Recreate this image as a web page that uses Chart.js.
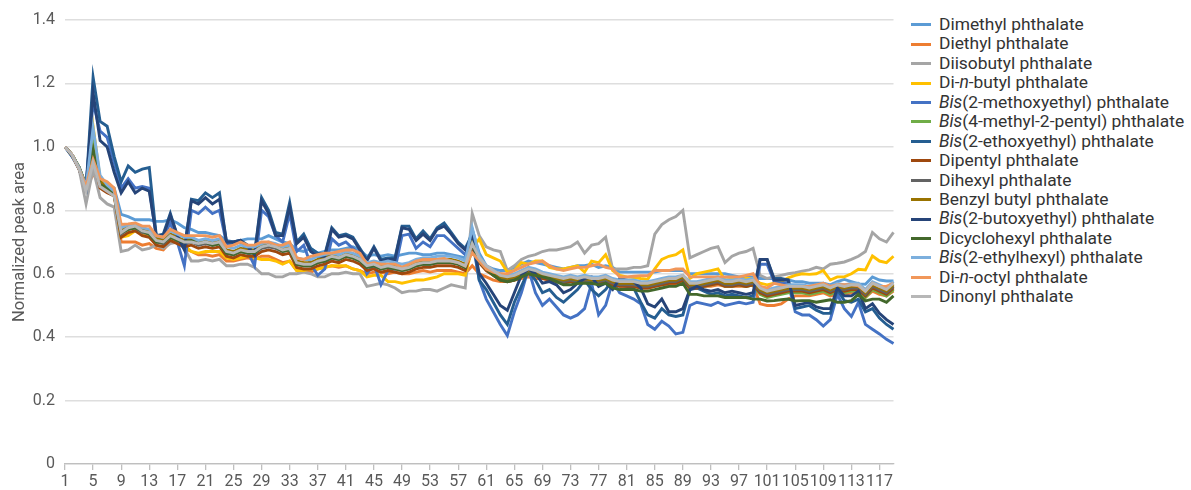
<!DOCTYPE html>
<html>
<head>
<meta charset="utf-8">
<script src="https://cdn.jsdelivr.net/npm/chart.js@4.4.1/dist/chart.umd.min.js"></script>
<style>
  body { margin:0; background:#fff; }
  #wrap { position:relative; width:1191px; height:490px; }
  #chartBox { position:absolute; left:0; top:0; width:900px; height:490px; }
  #legend { position:absolute; left:911px; top:15px; font-family:Roboto, "Liberation Sans", sans-serif; font-size:17.4px; color:#333; }
  #legend .item { height:19.45px; line-height:19.45px; white-space:nowrap; display:flex; align-items:center; }
  #legend .swatch { width:20px; height:3px; margin-right:8px; flex:none; }
</style>
</head>
<body>
<div id="wrap">
  <div id="chartBox"><canvas id="chart" width="900" height="490"></canvas></div>
  <div id="legend"></div>
</div>
<script>
// ---------- DATA ----------
const N_POINTS = 119;
const LABELS = Array.from({length:N_POINTS}, (_, i) => String(i + 1));
const Y_TICKS = [0, 0.2, 0.4, 0.6, 0.8, 1.0, 1.2, 1.4];

const SERIES_NAMES = [
  "Dimethyl phthalate", "Diethyl phthalate", "Diisobutyl phthalate", "Di-n-butyl phthalate",
  "Bis(2-methoxyethyl) phthalate", "Bis(4-methyl-2-pentyl) phthalate", "Bis(2-ethoxyethyl) phthalate",
  "Dipentyl phthalate", "Dihexyl phthalate", "Benzyl butyl phthalate", "Bis(2-butoxyethyl) phthalate",
  "Dicyclohexyl phthalate", "Bis(2-ethylhexyl) phthalate", "Di-n-octyl phthalate", "Dinonyl phthalate"
];
const SERIES_COLORS = [
  "#5B9BD5", "#ED7D31", "#A5A5A5", "#FFC000", "#4472C4", "#70AD47", "#255E91",
  "#9E480E", "#636363", "#997300", "#264478", "#43682B", "#7CAFDD", "#F1975A", "#B7B7B7"
];

const dimethyl = [
  1.00,0.975,0.935,0.88,0.99,0.90,0.88,0.87,0.787,0.78,
  0.77,0.77,0.77,0.765,0.765,0.77,0.76,0.745,0.74,0.73,
  0.73,0.725,0.72,0.705,0.70,0.705,0.71,0.71,0.71,0.72,
  0.71,0.70,0.695,0.675,0.67,0.68,0.665,0.67,0.675,0.675,
  0.68,0.685,0.675,0.655,0.66,0.655,0.66,0.655,0.66,0.665,
  0.665,0.66,0.66,0.665,0.665,0.66,0.655,0.65,0.74,0.665,
  0.625,0.615,0.61,0.61,0.62,0.63,0.64,0.635,0.63,0.625,
  0.62,0.615,0.62,0.625,0.625,0.63,0.62,0.625,0.62,0.605,
  0.605,0.605,0.605,0.605,0.605,0.61,0.61,0.61,0.61,0.60,
  0.60,0.60,0.60,0.60,0.60,0.595,0.59,0.59,0.59,0.585,
  0.585,0.585,0.58,0.58,0.575,0.575,0.57,0.57,0.57,0.565,
  0.575,0.582,0.575,0.568,0.567,0.59,0.58,0.577,0.577
];
const diethyl = [
  1.00,0.975,0.93,0.865,0.915,0.88,0.87,0.855,0.70,0.70,
  0.70,0.69,0.695,0.68,0.675,0.70,0.70,0.68,0.67,0.66,
  0.66,0.655,0.66,0.64,0.64,0.645,0.65,0.645,0.655,0.655,
  0.645,0.635,0.64,0.61,0.61,0.605,0.615,0.62,0.625,0.62,
  0.625,0.615,0.61,0.60,0.605,0.605,0.60,0.605,0.60,0.60,
  0.605,0.61,0.605,0.61,0.61,0.61,0.605,0.60,0.625,0.60,
  0.59,0.58,0.575,0.575,0.58,0.585,0.59,0.585,0.585,0.58,
  0.58,0.575,0.575,0.575,0.575,0.575,0.575,0.575,0.565,0.56,
  0.56,0.56,0.555,0.555,0.56,0.565,0.565,0.57,0.575,0.555,
  0.555,0.56,0.56,0.565,0.56,0.56,0.56,0.56,0.565,0.505,
  0.50,0.50,0.505,0.52,0.53,0.53,0.53,0.535,0.54,0.53,
  0.535,0.535,0.54,0.54,0.525,0.545,0.535,0.53,0.545
];
const diisobutyl = [
  1.00,0.975,0.93,0.82,0.93,0.84,0.82,0.81,0.67,0.675,
  0.69,0.675,0.68,0.69,0.68,0.695,0.70,0.68,0.64,0.64,
  0.645,0.64,0.645,0.625,0.625,0.63,0.63,0.62,0.60,0.60,
  0.59,0.59,0.60,0.60,0.605,0.60,0.59,0.59,0.60,0.60,
  0.605,0.60,0.60,0.56,0.565,0.57,0.565,0.555,0.54,0.545,
  0.545,0.55,0.55,0.545,0.555,0.565,0.56,0.555,0.79,0.72,
  0.685,0.675,0.67,0.61,0.625,0.645,0.655,0.66,0.67,0.675,
  0.675,0.68,0.685,0.70,0.665,0.69,0.695,0.715,0.615,0.615,
  0.615,0.62,0.62,0.625,0.725,0.755,0.77,0.78,0.80,0.65,
  0.66,0.67,0.68,0.685,0.635,0.655,0.665,0.67,0.68,0.595,
  0.585,0.59,0.595,0.60,0.603,0.608,0.612,0.62,0.615,0.63,
  0.633,0.637,0.645,0.655,0.67,0.73,0.71,0.70,0.73
];
const diNButyl = [
  1.00,0.975,0.935,0.875,1.065,0.90,0.87,0.85,0.715,0.72,
  0.735,0.725,0.72,0.70,0.695,0.705,0.70,0.69,0.67,0.665,
  0.67,0.67,0.67,0.65,0.645,0.65,0.655,0.65,0.645,0.645,
  0.64,0.63,0.64,0.61,0.61,0.615,0.615,0.62,0.625,0.625,
  0.625,0.615,0.61,0.59,0.595,0.595,0.575,0.575,0.57,0.575,
  0.58,0.58,0.585,0.59,0.60,0.60,0.60,0.595,0.68,0.71,
  0.66,0.65,0.64,0.605,0.61,0.635,0.63,0.64,0.64,0.62,
  0.615,0.615,0.62,0.625,0.605,0.64,0.635,0.66,0.61,0.595,
  0.59,0.588,0.585,0.583,0.615,0.645,0.655,0.66,0.675,0.585,
  0.60,0.605,0.61,0.615,0.58,0.583,0.58,0.585,0.585,0.57,
  0.565,0.57,0.575,0.587,0.595,0.60,0.598,0.60,0.61,0.58,
  0.59,0.59,0.60,0.614,0.612,0.656,0.64,0.635,0.655
];
const bisMethoxyethyl = [
  1.00,0.97,0.935,0.875,1.14,1.05,1.03,0.95,0.87,0.90,
  0.87,0.875,0.87,0.715,0.715,0.76,0.70,0.625,0.80,0.79,
  0.81,0.79,0.80,0.695,0.695,0.70,0.67,0.625,0.80,0.78,
  0.72,0.70,0.79,0.67,0.69,0.63,0.595,0.615,0.71,0.69,
  0.70,0.68,0.66,0.60,0.63,0.565,0.61,0.615,0.72,0.725,
  0.68,0.70,0.685,0.72,0.72,0.70,0.68,0.66,0.705,0.58,
  0.52,0.48,0.44,0.405,0.48,0.54,0.615,0.54,0.50,0.52,
  0.495,0.47,0.46,0.47,0.49,0.57,0.47,0.50,0.575,0.54,
  0.53,0.52,0.505,0.44,0.425,0.45,0.435,0.41,0.415,0.50,
  0.51,0.505,0.50,0.51,0.50,0.505,0.51,0.505,0.51,0.63,
  0.63,0.575,0.57,0.57,0.48,0.47,0.47,0.455,0.435,0.455,
  0.535,0.49,0.465,0.51,0.44,0.425,0.41,0.393,0.38
];
const bisMethylPentyl = [
  1.00,0.975,0.935,0.88,1.01,0.885,0.865,0.85,0.735,0.745,
  0.745,0.735,0.725,0.705,0.70,0.715,0.71,0.70,0.70,0.695,
  0.70,0.69,0.695,0.67,0.665,0.67,0.67,0.665,0.685,0.69,
  0.685,0.675,0.68,0.635,0.63,0.63,0.64,0.64,0.655,0.65,
  0.66,0.655,0.645,0.625,0.63,0.62,0.625,0.62,0.615,0.62,
  0.63,0.635,0.635,0.64,0.64,0.64,0.635,0.625,0.70,0.645,
  0.615,0.60,0.59,0.585,0.59,0.60,0.61,0.605,0.595,0.585,
  0.58,0.575,0.58,0.575,0.58,0.575,0.575,0.58,0.57,0.565,
  0.565,0.565,0.56,0.56,0.565,0.57,0.575,0.575,0.585,0.555,
  0.555,0.56,0.565,0.57,0.56,0.56,0.565,0.56,0.565,0.535,
  0.525,0.53,0.535,0.54,0.54,0.54,0.535,0.54,0.545,0.535,
  0.545,0.54,0.545,0.545,0.525,0.55,0.54,0.53,0.55
];
const bisEthoxyethyl = [
  1.00,0.97,0.93,0.87,1.22,1.08,1.065,0.97,0.89,0.94,
  0.92,0.93,0.935,0.72,0.725,0.79,0.72,0.68,0.835,0.83,
  0.855,0.84,0.855,0.70,0.70,0.705,0.69,0.665,0.84,0.80,
  0.73,0.725,0.825,0.70,0.725,0.68,0.665,0.66,0.745,0.72,
  0.725,0.715,0.68,0.645,0.685,0.645,0.65,0.65,0.75,0.75,
  0.71,0.735,0.71,0.745,0.76,0.73,0.70,0.68,0.725,0.58,
  0.55,0.51,0.47,0.44,0.51,0.56,0.61,0.58,0.54,0.55,
  0.525,0.51,0.53,0.55,0.58,0.55,0.53,0.55,0.58,0.565,
  0.56,0.555,0.51,0.47,0.46,0.49,0.47,0.465,0.47,0.55,
  0.555,0.545,0.535,0.54,0.53,0.535,0.53,0.525,0.53,0.645,
  0.645,0.585,0.585,0.58,0.49,0.495,0.50,0.485,0.475,0.475,
  0.55,0.515,0.51,0.52,0.48,0.49,0.46,0.44,0.425
];
const dipentyl = [
  1.00,0.975,0.93,0.87,0.97,0.87,0.855,0.845,0.715,0.73,
  0.735,0.72,0.715,0.69,0.685,0.705,0.695,0.685,0.69,0.68,
  0.685,0.68,0.685,0.655,0.65,0.66,0.655,0.655,0.67,0.675,
  0.67,0.66,0.665,0.62,0.615,0.615,0.625,0.63,0.64,0.635,
  0.645,0.64,0.63,0.61,0.615,0.605,0.61,0.605,0.60,0.605,
  0.615,0.62,0.62,0.625,0.625,0.625,0.62,0.61,0.68,0.635,
  0.61,0.595,0.58,0.575,0.58,0.59,0.60,0.595,0.585,0.58,
  0.575,0.57,0.575,0.57,0.575,0.57,0.57,0.575,0.565,0.56,
  0.56,0.56,0.555,0.555,0.56,0.565,0.57,0.57,0.58,0.555,
  0.555,0.56,0.565,0.57,0.56,0.56,0.565,0.56,0.565,0.54,
  0.53,0.535,0.54,0.545,0.545,0.545,0.54,0.545,0.55,0.54,
  0.55,0.545,0.55,0.55,0.53,0.555,0.545,0.535,0.555
];
const dihexyl = [
  1.00,0.975,0.935,0.875,0.98,0.88,0.865,0.85,0.725,0.74,
  0.745,0.73,0.725,0.70,0.695,0.715,0.705,0.695,0.70,0.69,
  0.695,0.69,0.695,0.665,0.66,0.67,0.665,0.665,0.68,0.685,
  0.68,0.67,0.675,0.63,0.625,0.625,0.635,0.64,0.65,0.645,
  0.655,0.65,0.64,0.62,0.625,0.615,0.62,0.615,0.61,0.615,
  0.625,0.63,0.63,0.635,0.635,0.635,0.63,0.62,0.69,0.64,
  0.615,0.60,0.585,0.58,0.585,0.595,0.605,0.60,0.59,0.585,
  0.58,0.575,0.58,0.575,0.58,0.575,0.575,0.58,0.57,0.565,
  0.565,0.565,0.56,0.56,0.565,0.57,0.575,0.575,0.585,0.56,
  0.56,0.565,0.57,0.575,0.565,0.565,0.57,0.565,0.57,0.545,
  0.535,0.54,0.545,0.55,0.55,0.55,0.545,0.55,0.555,0.545,
  0.555,0.55,0.555,0.555,0.535,0.56,0.55,0.54,0.56
];
const benzylButyl = [
  1.00,0.975,0.935,0.875,0.99,0.89,0.875,0.855,0.735,0.75,
  0.755,0.74,0.735,0.71,0.705,0.725,0.715,0.705,0.71,0.70,
  0.705,0.70,0.705,0.675,0.67,0.68,0.675,0.675,0.69,0.695,
  0.69,0.68,0.685,0.64,0.635,0.635,0.645,0.65,0.66,0.655,
  0.665,0.66,0.65,0.63,0.635,0.625,0.63,0.625,0.62,0.625,
  0.635,0.64,0.64,0.645,0.645,0.645,0.64,0.63,0.70,0.645,
  0.62,0.605,0.59,0.585,0.59,0.60,0.61,0.605,0.595,0.59,
  0.585,0.58,0.585,0.58,0.585,0.58,0.58,0.585,0.575,0.57,
  0.57,0.57,0.565,0.565,0.57,0.575,0.58,0.58,0.59,0.565,
  0.565,0.57,0.575,0.58,0.57,0.57,0.575,0.57,0.575,0.55,
  0.54,0.545,0.55,0.555,0.555,0.555,0.55,0.555,0.56,0.55,
  0.56,0.555,0.56,0.56,0.54,0.565,0.555,0.545,0.565
];
const bisButoxyethyl = [
  1.00,0.975,0.93,0.87,1.17,1.02,1.00,0.92,0.855,0.89,
  0.855,0.87,0.86,0.72,0.72,0.785,0.72,0.675,0.83,0.82,
  0.84,0.82,0.835,0.70,0.70,0.705,0.685,0.66,0.83,0.79,
  0.72,0.72,0.81,0.695,0.715,0.67,0.655,0.655,0.74,0.715,
  0.72,0.71,0.675,0.64,0.68,0.64,0.645,0.645,0.745,0.74,
  0.705,0.725,0.705,0.74,0.75,0.725,0.695,0.675,0.715,0.60,
  0.57,0.535,0.50,0.485,0.54,0.595,0.615,0.60,0.57,0.575,
  0.565,0.54,0.55,0.57,0.585,0.59,0.56,0.57,0.55,0.585,
  0.58,0.575,0.555,0.505,0.495,0.52,0.48,0.48,0.49,0.55,
  0.56,0.55,0.545,0.55,0.54,0.545,0.54,0.535,0.54,0.645,
  0.645,0.58,0.58,0.58,0.50,0.505,0.51,0.495,0.49,0.49,
  0.555,0.53,0.53,0.545,0.49,0.505,0.475,0.455,0.44
];
const dicyclohexyl = [
  1.00,0.975,0.935,0.875,0.99,0.88,0.87,0.85,0.73,0.74,
  0.745,0.735,0.725,0.70,0.70,0.715,0.705,0.70,0.705,0.695,
  0.70,0.69,0.695,0.665,0.66,0.67,0.665,0.665,0.685,0.69,
  0.685,0.67,0.675,0.63,0.625,0.625,0.635,0.64,0.65,0.645,
  0.655,0.65,0.64,0.62,0.625,0.615,0.62,0.615,0.61,0.615,
  0.625,0.63,0.63,0.635,0.635,0.635,0.63,0.62,0.695,0.64,
  0.615,0.595,0.58,0.575,0.58,0.59,0.60,0.595,0.59,0.585,
  0.575,0.565,0.565,0.57,0.57,0.57,0.565,0.57,0.555,0.55,
  0.55,0.55,0.545,0.545,0.55,0.555,0.56,0.56,0.57,0.535,
  0.535,0.53,0.53,0.53,0.525,0.525,0.525,0.525,0.52,0.52,
  0.514,0.515,0.518,0.52,0.514,0.515,0.515,0.51,0.514,0.518,
  0.51,0.51,0.515,0.535,0.514,0.52,0.52,0.51,0.53
];
const bisEthylhexyl = [
  1.00,0.975,0.935,0.875,1.06,0.91,0.88,0.86,0.745,0.755,
  0.755,0.745,0.74,0.72,0.715,0.735,0.725,0.715,0.715,0.705,
  0.71,0.705,0.71,0.685,0.68,0.69,0.685,0.685,0.695,0.70,
  0.695,0.685,0.69,0.65,0.645,0.645,0.655,0.66,0.665,0.66,
  0.67,0.665,0.655,0.635,0.64,0.635,0.64,0.635,0.63,0.635,
  0.645,0.65,0.65,0.655,0.655,0.655,0.65,0.64,0.745,0.655,
  0.625,0.61,0.60,0.595,0.60,0.61,0.62,0.615,0.605,0.60,
  0.595,0.59,0.595,0.59,0.595,0.59,0.59,0.595,0.585,0.58,
  0.58,0.58,0.575,0.575,0.58,0.585,0.59,0.59,0.595,0.575,
  0.575,0.58,0.585,0.59,0.58,0.58,0.585,0.58,0.585,0.56,
  0.55,0.555,0.56,0.565,0.565,0.565,0.56,0.565,0.57,0.56,
  0.57,0.565,0.57,0.57,0.55,0.575,0.565,0.555,0.575
];
const diNOctyl = [
  1.00,0.975,0.93,0.875,0.96,0.90,0.89,0.87,0.755,0.757,
  0.76,0.75,0.75,0.72,0.715,0.74,0.73,0.72,0.72,0.72,
  0.72,0.715,0.72,0.685,0.69,0.70,0.69,0.69,0.70,0.70,
  0.69,0.69,0.70,0.65,0.645,0.655,0.66,0.665,0.665,0.67,
  0.675,0.675,0.665,0.63,0.635,0.63,0.63,0.63,0.62,0.63,
  0.64,0.645,0.645,0.645,0.648,0.64,0.635,0.624,0.666,0.64,
  0.615,0.605,0.60,0.60,0.61,0.62,0.63,0.635,0.64,0.625,
  0.615,0.61,0.615,0.62,0.62,0.625,0.63,0.62,0.615,0.59,
  0.59,0.592,0.594,0.594,0.61,0.61,0.61,0.615,0.615,0.59,
  0.59,0.59,0.59,0.59,0.59,0.59,0.59,0.595,0.60,0.56,
  0.555,0.57,0.565,0.56,0.56,0.56,0.56,0.565,0.57,0.56,
  0.565,0.565,0.565,0.562,0.545,0.57,0.56,0.56,0.57
];
const dinonyl = [
  1.00,0.975,0.93,0.86,0.95,0.875,0.86,0.845,0.73,0.745,
  0.75,0.735,0.73,0.705,0.70,0.72,0.71,0.70,0.70,0.695,
  0.70,0.695,0.70,0.67,0.665,0.675,0.67,0.67,0.685,0.69,
  0.685,0.675,0.68,0.635,0.63,0.63,0.64,0.645,0.655,0.65,
  0.66,0.655,0.645,0.625,0.63,0.62,0.625,0.62,0.615,0.62,
  0.63,0.635,0.635,0.64,0.64,0.64,0.635,0.625,0.695,0.65,
  0.625,0.61,0.595,0.59,0.595,0.605,0.615,0.61,0.60,0.595,
  0.59,0.585,0.59,0.585,0.59,0.585,0.585,0.59,0.58,0.575,
  0.575,0.575,0.57,0.57,0.575,0.58,0.585,0.585,0.595,0.57,
  0.57,0.575,0.58,0.585,0.575,0.575,0.58,0.575,0.58,0.555,
  0.545,0.55,0.555,0.56,0.56,0.56,0.555,0.56,0.565,0.555,
  0.565,0.56,0.565,0.565,0.545,0.57,0.56,0.55,0.57
];

const SERIES_VALUES = [
  dimethyl, diethyl, diisobutyl, diNButyl, bisMethoxyethyl, bisMethylPentyl, bisEthoxyethyl,
  dipentyl, dihexyl, benzylButyl, bisButoxyethyl, dicyclohexyl, bisEthylhexyl, diNOctyl, dinonyl
];

// ---------- CHART ----------
const FONT = "Roboto, 'Liberation Sans', sans-serif";
const TEXT_GREY = "#595959";

const datasets = SERIES_NAMES.map((name, i) => ({
  label: name,
  data: SERIES_VALUES[i],
  borderColor: SERIES_COLORS[i],
  backgroundColor: SERIES_COLORS[i],
  borderWidth: 2.9,
  pointRadius: 0,
  tension: 0,
  fill: false,
  order: SERIES_NAMES.length - i   // later series drawn on top, like the original
}));

const chart = new Chart(document.getElementById("chart"), {
  type: "line",
  data: { labels: LABELS, datasets: datasets },
  options: {
    responsive: false,
    animation: false,
    layout: { padding: { top: 20, right: 6.5, bottom: 0, left: 0 } },
    plugins: { legend: { display: false }, tooltip: { enabled: false } },
    scales: {
      x: {
        offset: false,
        afterFit: s => { s.height = 26; },
        border: { display: true, color: "#bfbfbf", width: 1.3 },
        grid: {
          drawOnChartArea: false, drawTicks: true, tickLength: 6, lineWidth: 1.3,
          color: ctx => (ctx.index % 4 === 0 ? "#bfbfbf" : "rgba(0,0,0,0)")
        },
        ticks: {
          autoSkip: false, maxRotation: 0, padding: 2, color: TEXT_GREY,
          font: { family: FONT, size: 16 },
          callback: (v, i) => (i % 4 === 0 ? LABELS[i] : "")
        }
      },
      y: {
        min: 0, max: 1.4,
        afterFit: s => { s.width = 65; },
        afterBuildTicks: s => { s.ticks = Y_TICKS.map(v => ({ value: v })); },
        border: { display: false },
        grid: { color: "#dedede", lineWidth: 1.4, drawTicks: false },
        ticks: {
          padding: 10, color: TEXT_GREY, font: { family: FONT, size: 16 },
          callback: v => (v === 0 ? "0" : v.toFixed(1))
        },
        title: {
          display: true, text: "Normalized peak area", color: TEXT_GREY,
          font: { family: FONT, size: 16.5 }, padding: { top: 10, bottom: 0 }
        }
      }
    }
  }
});

// ---------- LEGEND ----------
const legendBox = document.getElementById("legend");
SERIES_NAMES.forEach((name, i) => {
  const item = document.createElement("div");
  item.className = "item";
  const sw = document.createElement("span");
  sw.className = "swatch";
  sw.style.background = SERIES_COLORS[i];
  const txt = document.createElement("span");
  txt.innerHTML = name.replace(/^Bis/, "<i>Bis</i>").replace(/-n-/, "-<i>n</i>-");
  item.appendChild(sw);
  item.appendChild(txt);
  legendBox.appendChild(item);
});
</script>
</body>
</html>
